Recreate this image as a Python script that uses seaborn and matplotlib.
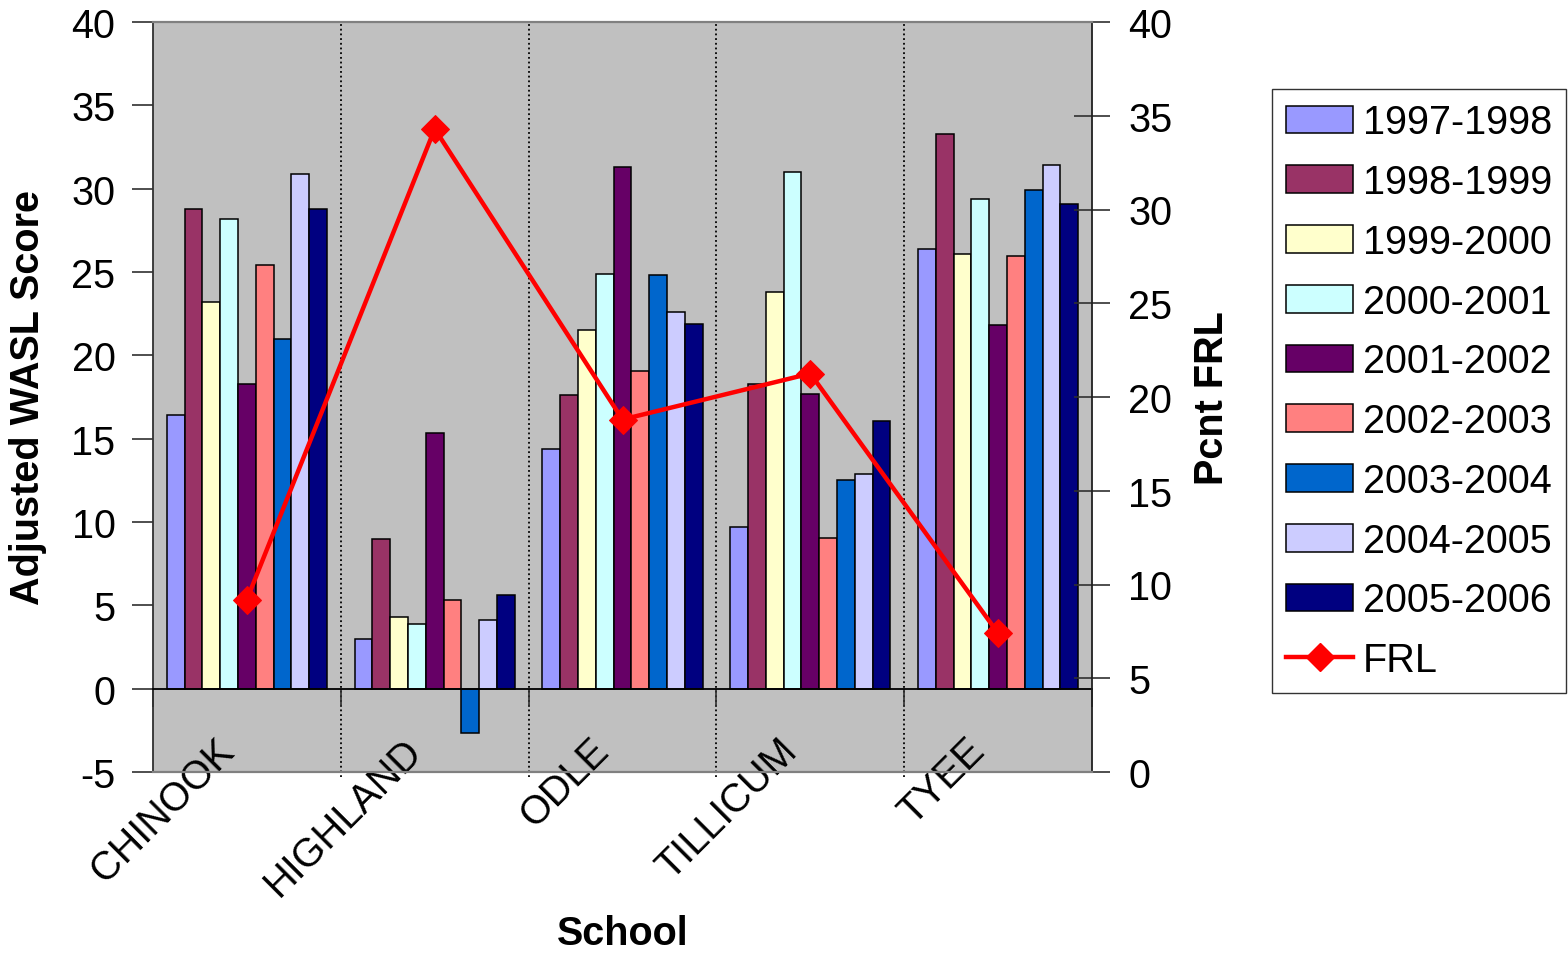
import matplotlib
matplotlib.use("Agg")
import matplotlib.pyplot as plt
import matplotlib.transforms as mtransforms
from matplotlib.patches import Patch
from matplotlib.lines import Line2D
from matplotlib.ticker import FixedLocator
import numpy as np
import pandas as pd
import seaborn as sns

# ---- data -------------------------------------------------------------
schools = ["CHINOOK", "HIGHLAND", "ODLE", "TILLICUM", "TYEE"]
years = ["1997-1998", "1998-1999", "1999-2000", "2000-2001", "2001-2002",
         "2002-2003", "2003-2004", "2004-2005", "2005-2006"]

chinook = [16.4, 28.8, 23.2, 28.2, 18.3, 25.4, 21.0, 30.9, 28.8]
highland = [3.0, 9.0, 4.3, 3.9, 15.35, 5.3, -2.65, 4.1, 5.6]
odle = [14.4, 17.6, 21.5, 24.9, 31.3, 19.05, 24.8, 22.6, 21.9]
tillicum = [9.7, 18.3, 23.8, 31.0, 17.65, 9.05, 12.5, 12.9, 16.05]
tyee = [26.35, 33.3, 26.05, 29.4, 21.8, 25.95, 29.9, 31.4, 29.1]

frl = [9.2, 34.3, 18.8, 21.25, 7.4]

year_colors = ["#9999FF", "#993366", "#FFFFCC", "#CCFFFF", "#660066",
               "#FF8080", "#0066CC", "#CCCCFF", "#000080"]

left_ticks = [-5, 0, 5, 10, 15, 20, 25, 30, 35, 40]
right_ticks = [0, 5, 10, 15, 20, 25, 30, 35, 40]

# ---- long-form table for seaborn --------------------------------------
scores = [chinook, highland, odle, tillicum, tyee]
rows = []
for school, vals in zip(schools, scores):
    for yr, v in zip(years, vals):
        rows.append({"School": school, "Year": yr, "Score": v})
df = pd.DataFrame(rows)

# ---- styling ----------------------------------------------------------
plt.rcParams["font.family"] = ["Liberation Sans", "DejaVu Sans"]
FS = 28.5
DPI = 100

fig = plt.figure(figsize=(15.68, 9.54), dpi=DPI)
fig.patch.set_facecolor("white")
ax = fig.add_axes([153 / 1568, 1 - 773 / 954, (1092 - 153) / 1568, (773 - 23) / 954])
ax.set_facecolor("#C0C0C0")

sns.barplot(data=df, x="School", y="Score", hue="Year",
            order=schools, hue_order=years, palette=year_colors,
            saturation=1, width=0.852, edgecolor="black", linewidth=1.1,
            errorbar=None, legend=False, ax=ax, zorder=3)

ax.set_xlim(-0.5, len(schools) - 0.5)
ax.set_ylim(-5, 40)
ax.set_yticks(left_ticks)
ax.set_yticklabels([str(t) for t in left_ticks])

# category separators (dotted)
for b in np.arange(0.5, len(schools) - 0.5, 1.0):
    ax.axvline(b, ymin=-0.006, ymax=1, color="black", lw=1.3,
               ls=(0, (1, 1.6)), zorder=1, clip_on=False)

# category axis sits on the zero line
for side in ["top", "right"]:
    ax.spines[side].set_visible(False)
ax.spines["bottom"].set_position(("data", 0))
ax.spines["bottom"].set_color("black")
ax.spines["bottom"].set_linewidth(1.3)
ax.spines["bottom"].set_zorder(4)
ax.spines["left"].set_color("#303030")
ax.spines["left"].set_linewidth(1.3)

ax.xaxis.set_minor_locator(FixedLocator(np.arange(-0.5, len(schools), 1.0)))
ax.tick_params(axis="x", which="major", length=0, pad=42 / 1.389,
               labelsize=FS)
ax.tick_params(axis="x", which="minor", length=13, width=1.2,
               direction="out", color="#303030")
ax.tick_params(axis="y", direction="out", length=15, width=1.2,
               color="#303030", labelsize=FS, pad=12)
plt.setp(ax.get_xticklabels(), rotation=45, ha="right", va="top")
shift = mtransforms.ScaledTranslation(-6 / DPI, 0, fig.dpi_scale_trans)
for lbl in ax.get_xticklabels():
    lbl.set_transform(lbl.get_transform() + shift)

ax.set_xlabel("School", fontsize=FS, fontweight="bold")
ax.xaxis.set_label_coords(0.5, -0.189)
ax.set_ylabel("Adjusted WASL Score", fontsize=FS, fontweight="bold")
ax.yaxis.set_label_coords(-0.113, 0.5)

# ---- FRL line on secondary axis ---------------------------------------
ax2 = ax.twinx()
sns.lineplot(x=np.arange(len(schools)), y=frl, ax=ax2, color="#FF0000",
             lw=3.2, marker="D", markersize=14, markeredgecolor="#FF0000",
             sort=False, zorder=5)
ax2.set_ylim(0, 40)
ax2.set_yticks(right_ticks)
ax2.set_yticklabels([str(t) for t in right_ticks])
ax2.tick_params(axis="y", direction="inout", length=26, width=1.2,
                color="#303030", labelsize=FS, pad=13)
ax2.spines["left"].set_visible(False)
ax2.spines["right"].set_color("#202020")
ax2.spines["right"].set_linewidth(1.3)
for side in ["top", "bottom"]:
    ax2.spines[side].set_color("#808080")
    ax2.spines[side].set_linewidth(1.6)
ax2.set_ylabel("Pcnt FRL", fontsize=FS, fontweight="bold")
ax2.yaxis.set_label_coords(1.1076, 0.5)

# ---- legend -----------------------------------------------------------
handles = [Patch(facecolor=c, edgecolor="black", linewidth=1.1) for c in year_colors]
handles.append(Line2D([], [], color="#FF0000", lw=3.2, marker="D",
                      markersize=14, markeredgecolor="#FF0000"))
labels = years + ["FRL"]
leg = fig.legend(handles, labels, loc="upper left",
                 bbox_to_anchor=(1272 / 1568, 1 - 90 / 954),
                 fontsize=FS, frameon=True, fancybox=False, shadow=False,
                 handlelength=1.68, handleheight=0.7, handletextpad=0.25,
                 labelspacing=0.55, borderpad=0.36, borderaxespad=0)
leg.get_frame().set_edgecolor("black")
leg.get_frame().set_linewidth(1.0)

fig.savefig("out.png", dpi=DPI, facecolor="white")
